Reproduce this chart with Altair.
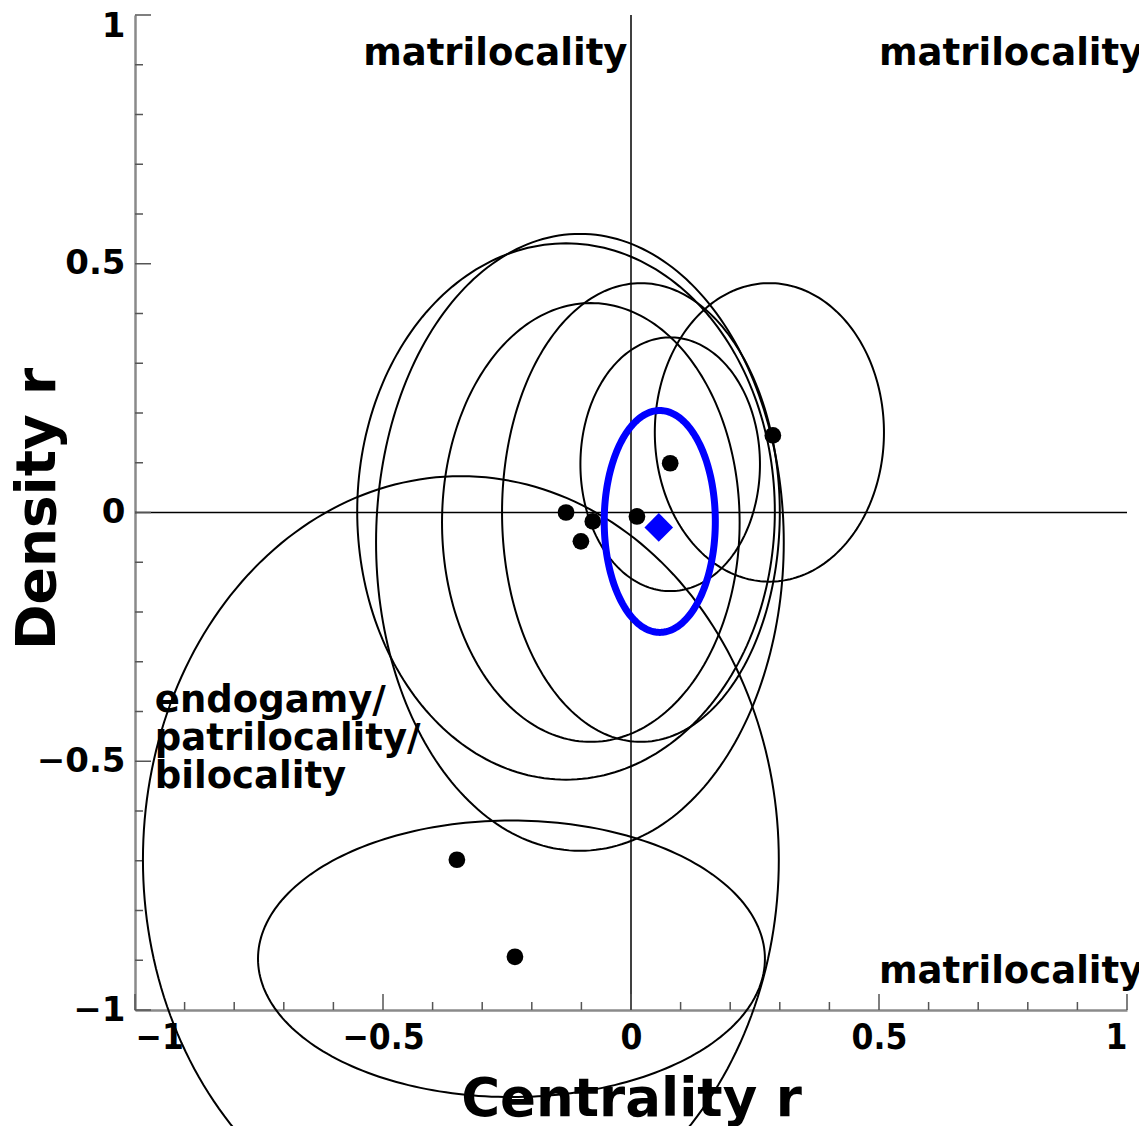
import numpy as np
import pandas as pd
import altair as alt

# ---- data ----
# study points (centrality r, density r)
pt_x = [-0.351, -0.234, -0.131, -0.077, -0.101, 0.012, 0.079, 0.286]
pt_y = [-0.698, -0.893, 0.000, -0.018, -0.058, -0.008, 0.099, 0.155]

# confidence ellipses (center x, center y, radius x, radius y)
ell_cx = [-0.343, -0.241, -0.131, -0.103, -0.081, 0.020, 0.079, 0.279]
ell_cy = [-0.698, -0.897, 0.002, -0.060, -0.020, 0.000, 0.097, 0.161]
ell_rx = [0.641, 0.511, 0.421, 0.411, 0.300, 0.280, 0.181, 0.231]
ell_ry = [0.771, 0.278, 0.539, 0.620, 0.441, 0.461, 0.255, 0.300]

# pooled estimate (blue)
pool_x = [0.056]
pool_y = [-0.030]
pool_ex = [0.058]
pool_ey = [-0.018]
pool_rx = [0.112]
pool_ry = [0.223]

# annotations
ann_text = ["matrilocality", "matrilocality", "matrilocality",
            "endogamy/\npatrilocality/\nbilocality"]
ann_x = [-0.54, 0.50, 0.50, -0.96]
ann_y = [0.90, 0.90, -0.946, -0.400]

tick_major = [-1.0, -0.5, 0.0, 0.5, 1.0]
tick_minor = [-0.9, -0.8, -0.7, -0.6, -0.4, -0.3, -0.2, -0.1,
              0.1, 0.2, 0.3, 0.4, 0.6, 0.7, 0.8, 0.9]

W, H = 992, 995
FONT = "DejaVu Sans"


def ellipse_frame(cx, cy, rx, ry):
    t = np.linspace(0, 2 * np.pi, 241)
    rows = []
    for i, (a, b, c, d) in enumerate(zip(cx, cy, rx, ry)):
        for k, tt in enumerate(t):
            rows.append({"id": i, "k": k,
                         "x": a + c * np.cos(tt), "y": b + d * np.sin(tt)})
    return pd.DataFrame(rows)


xs = alt.Scale(domain=[-1, 1], nice=False, zero=False)
ys = alt.Scale(domain=[-1, 1], nice=False, zero=False)

ell_df = ellipse_frame(ell_cx, ell_cy, ell_rx, ell_ry)
pool_df = ellipse_frame(pool_ex, pool_ey, pool_rx, pool_ry)
pts_df = pd.DataFrame({"x": pt_x, "y": pt_y})
pool_pt = pd.DataFrame({"x": pool_x, "y": pool_y})
ann_df = pd.DataFrame({"t": ann_text, "x": ann_x, "y": ann_y})
zero_df = pd.DataFrame({"v": [0.0]})
maj_df = pd.DataFrame({"v": tick_major})
min_df = pd.DataFrame({"v": tick_minor})

xaxis = alt.Axis(values=tick_major, format="~g", ticks=False, tickSize=0,
                 grid=False, labelFontSize=35, labelPadding=10,
                 labelFont="DejaVu Sans Condensed", labelFontWeight="bold",
                 labelColor="black",
                 domainColor="#8a8a8a", domainWidth=2.5,
                 title="Centrality r", titleFont=FONT, titleFontSize=53,
                 titleFontWeight="bold", titleColor="black",
                 titleBaseline="alphabetic", titleY=105, titleX=W / 2)
yaxis = alt.Axis(values=tick_major, format="~g", ticks=False, tickSize=0,
                 grid=False, labelFontSize=34, labelPadding=10,
                 labelFont=FONT, labelFontWeight="bold", labelColor="black",
                 labelBaseline=alt.ExprRef("datum.value == 1 ? 'top' : 'middle'"),
                 labelOffset=alt.ExprRef("datum.value == 1 ? -6 : 0"),
                 domainColor="#8a8a8a", domainWidth=2.5,
                 title="Density r", titleFont=FONT, titleFontSize=55,
                 titleFontWeight="bold", titleColor="black",
                 titleAngle=270, titleBaseline="alphabetic",
                 titleX=-81, titleY=H / 2 - 4)

base_axes = alt.Chart(zero_df).mark_rule(color="black", strokeWidth=1.5).encode(
    x=alt.X("v:Q", scale=xs, axis=xaxis),
)
hline = alt.Chart(zero_df).mark_rule(color="black", strokeWidth=1.5).encode(
    y=alt.Y("v:Q", scale=ys, axis=yaxis),
)

xt_major = alt.Chart(maj_df).mark_rule(color="#555555", strokeWidth=1.5).encode(
    x=alt.X("v:Q", scale=xs), y=alt.value(H), y2=alt.value(H - 16))
xt_minor = alt.Chart(min_df).mark_rule(color="#555555", strokeWidth=1.5).encode(
    x=alt.X("v:Q", scale=xs), y=alt.value(H), y2=alt.value(H - 8))
yt_major = alt.Chart(maj_df).mark_rule(color="#555555", strokeWidth=1.5).encode(
    y=alt.Y("v:Q", scale=ys), x=alt.value(0), x2=alt.value(16))
yt_minor = alt.Chart(min_df).mark_rule(color="#555555", strokeWidth=1.5).encode(
    y=alt.Y("v:Q", scale=ys), x=alt.value(0), x2=alt.value(8))

ellipses = alt.Chart(ell_df).mark_line(color="black", strokeWidth=2, clip=False).encode(
    x=alt.X("x:Q", scale=xs), y=alt.Y("y:Q", scale=ys),
    detail="id:N", order="k:Q")
pool_ell = alt.Chart(pool_df).mark_line(color="#0000ff", strokeWidth=7, clip=False).encode(
    x=alt.X("x:Q", scale=xs), y=alt.Y("y:Q", scale=ys),
    detail="id:N", order="k:Q")
dots = alt.Chart(pts_df).mark_point(shape="circle", filled=True, color="black",
                                    size=280, opacity=1).encode(
    x=alt.X("x:Q", scale=xs), y=alt.Y("y:Q", scale=ys))
diamond = alt.Chart(pool_pt).mark_point(shape="diamond", filled=True, color="#0000ff",
                                        size=820, opacity=1).encode(
    x=alt.X("x:Q", scale=xs), y=alt.Y("y:Q", scale=ys))
labels = alt.Chart(ann_df).mark_text(font=FONT, fontWeight="bold", fontSize=37,
                                     align="left", baseline="alphabetic",
                                     lineBreak="\n", lineHeight=38,
                                     color="black").encode(
    x=alt.X("x:Q", scale=xs), y=alt.Y("y:Q", scale=ys), text="t:N")

chart = alt.layer(
    base_axes, hline, xt_major, xt_minor, yt_major, yt_minor,
    ellipses, dots, pool_ell, diamond, labels
).properties(
    width=W, height=H,
    autosize=alt.AutoSizeParams(type="none"),
    padding={"left": 127, "top": 7, "right": 12, "bottom": 116},
).configure_view(stroke=None)

chart.save("out.html", embed_options={"renderer": "svg", "actions": False})
